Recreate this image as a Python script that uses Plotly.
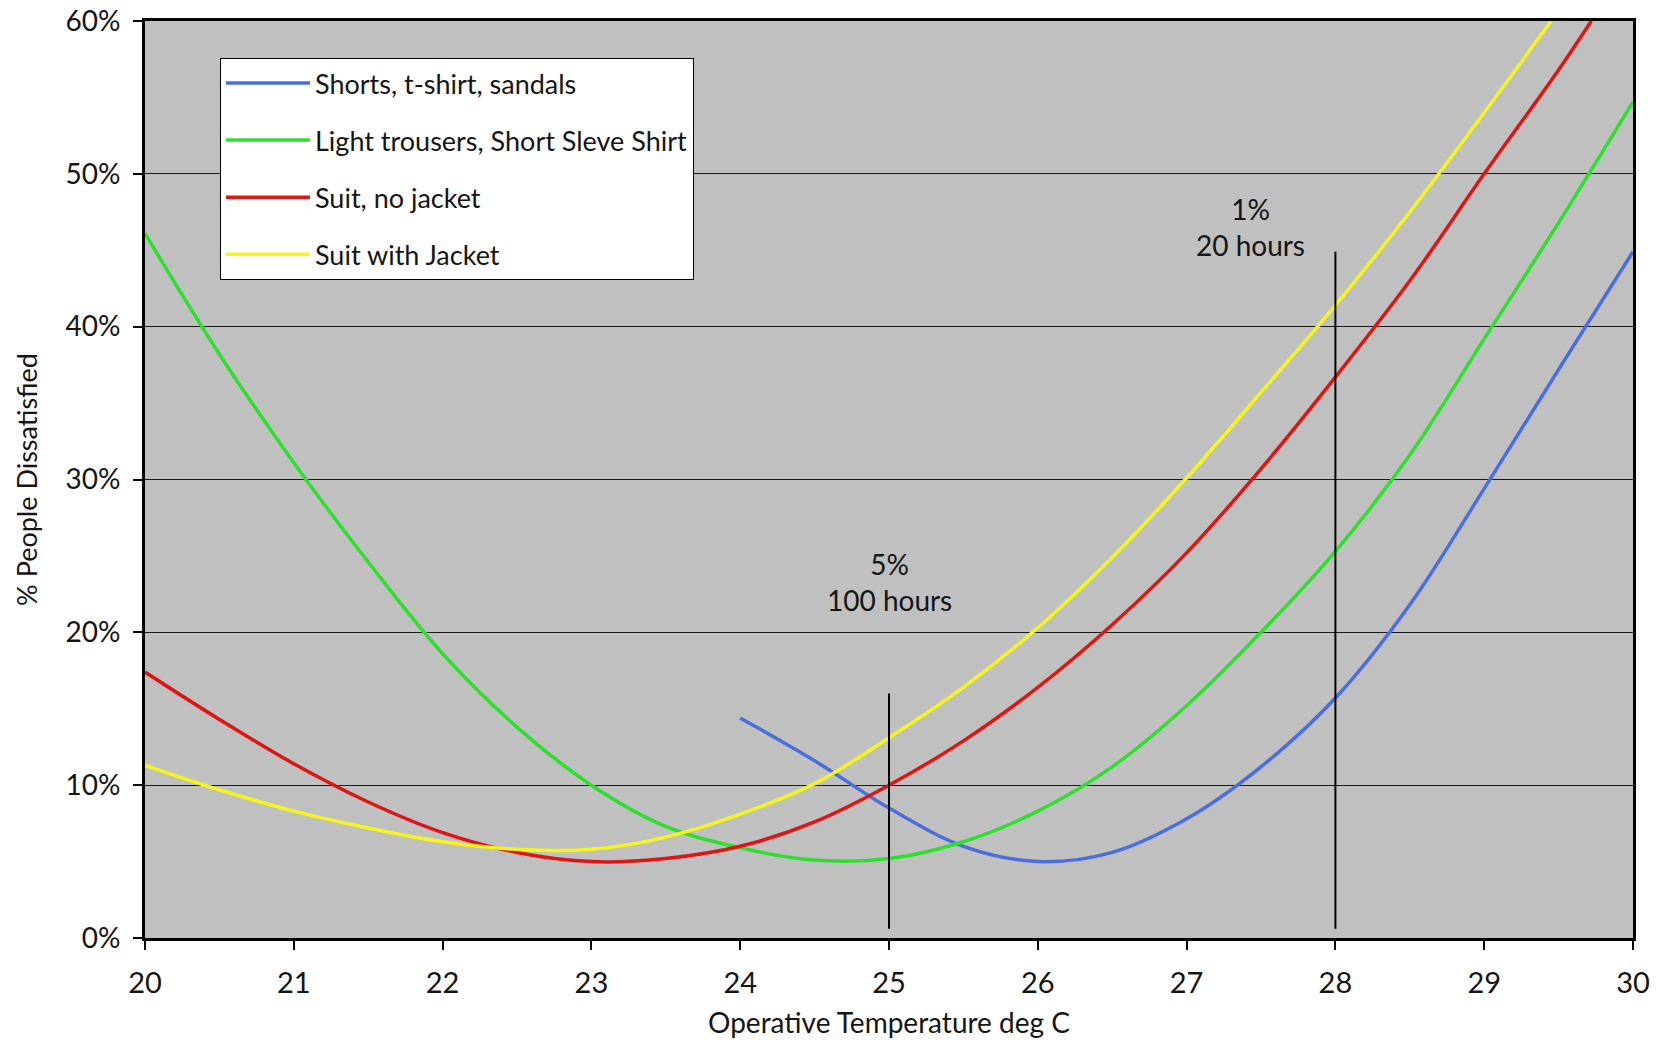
import plotly.graph_objects as go

# ---------------- data ----------------
temp_yellow = [20, 20.5, 21, 21.5, 22, 22.5, 23, 23.5, 24, 24.5, 25, 25.5, 26, 26.5, 27, 27.5, 28, 28.5, 29, 29.45]
ppd_yellow = [11.3, 9.7, 8.3, 7.2, 6.3, 5.8, 5.8, 6.6, 8.1, 10.1, 13.1, 16.4, 20.3, 24.9, 30.1, 35.7, 41.4, 47.5, 54.0, 60.0]

temp_red = [20, 20.5, 21, 21.5, 22, 22.5, 23, 23.5, 24, 24.5, 25, 25.5, 26, 26.5, 27, 27.5, 28, 28.5, 29, 29.5, 29.72]
ppd_red = [17.4, 14.3, 11.4, 8.9, 6.9, 5.6, 5.0, 5.2, 6.0, 7.6, 10.0, 12.9, 16.4, 20.5, 25.2, 30.7, 36.7, 43.0, 50.0, 56.8, 60.0]

temp_green = [20, 20.5, 21, 21.5, 22, 22.5, 23, 23.5, 24, 24.5, 25, 25.5, 26, 26.5, 27, 27.5, 28, 28.5, 29, 29.5, 30]
ppd_green = [46.1, 38.2, 31.1, 24.6, 18.6, 13.8, 10.0, 7.3, 5.9, 5.1, 5.2, 6.3, 8.3, 11.2, 15.2, 20.0, 25.3, 31.6, 39.2, 46.8, 54.7]

temp_blue = [24, 24.5, 25, 25.5, 26, 26.5, 27, 27.5, 28, 28.5, 29, 29.5, 30]
ppd_blue = [14.4, 11.6, 8.5, 6.0, 5.0, 5.6, 7.8, 11.2, 15.7, 21.8, 29.4, 37.2, 44.9]

series_names = ["Shorts, t-shirt, sandals", "Light trousers, Short Sleve Shirt",
                "Suit, no jacket", "Suit with Jacket"]

marker_x = [25, 28]
marker_top = [16.0, 44.9]
marker_bottom = [0.6, 0.6]
marker_labels = ["5%<br>100 hours", "1%<br>20 hours"]
label_x = [25.0, 27.43]
label_y = [23.3, 46.5]

x_ticks = list(range(20, 31))
y_ticks = [0, 10, 20, 30, 40, 50, 60]
y_tick_labels = [f"{v}%" for v in y_ticks]

# ---------------- figure ----------------
FONT = "Lato"
TEXT = "#151515"
colors = ["#4A6FDC", "#2EE02E", "#DD1515", "#F5F51E"]
series = [(temp_blue, ppd_blue), (temp_green, ppd_green), (temp_red, ppd_red), (temp_yellow, ppd_yellow)]

fig = go.Figure()
for i, ((xs, ys), name, c) in enumerate(zip(series, series_names, colors)):
    fig.add_trace(go.Scatter(x=xs, y=ys, mode="lines", name=name,
                             line=dict(color=c, width=3.5, shape="spline", smoothing=1.0),
                             legendgroup=f"g{i}"))

for mx, top, bot in zip(marker_x, marker_top, marker_bottom):
    fig.add_trace(go.Scatter(x=[mx, mx], y=[bot, top], mode="lines",
                             line=dict(color="black", width=2), showlegend=False,
                             hoverinfo="skip"))

for lx, ly, txt in zip(label_x, label_y, marker_labels):
    fig.add_annotation(x=lx, y=ly, text=txt, showarrow=False,
                       font=dict(family=FONT, size=28, color=TEXT),
                       align="center", xref="x", yref="y")

fig.update_layout(
    width=1659, height=1044,
    margin=dict(l=145, r=26, t=21, b=106),
    paper_bgcolor="white",
    plot_bgcolor="#C0C0C0",
    font=dict(family=FONT, size=26, color=TEXT),
    showlegend=True,
    legend=dict(x=0.0504, y=0.9597, xanchor="left", yanchor="top",
                bgcolor="white", bordercolor="black", borderwidth=1,
                font=dict(family=FONT, size=27, color=TEXT),
                tracegroupgap=19, itemwidth=84),
)

fig.update_xaxes(range=[20, 30], tickvals=x_ticks, ticks="outside", ticklen=9,
                 tickwidth=1.5, tickcolor="black", showgrid=False, zeroline=False,
                 showline=True, linecolor="black", linewidth=3, mirror=True,
                 automargin=False, ticklabelstandoff=8,
                 tickfont=dict(size=29, color=TEXT),
                 title=dict(text="Operative Temperature deg C", font=dict(size=28, color=TEXT), standoff=16))
fig.update_yaxes(range=[0, 60], tickvals=y_ticks, ticktext=y_tick_labels, ticks="outside",
                 ticklen=9, tickwidth=1.5, tickcolor="black",
                 showgrid=True, gridcolor="#1a1a1a", gridwidth=1, zeroline=False,
                 showline=True, linecolor="black", linewidth=3, mirror=True,
                 automargin=False, ticklabelstandoff=7,
                 tickfont=dict(size=28, color=TEXT),
                 title=dict(text="% People Dissatisfied", font=dict(size=27, color=TEXT), standoff=21))

fig.write_html("out.html", config={"displayModeBar": False},
               post_script="document.body.style.margin='0px';")
